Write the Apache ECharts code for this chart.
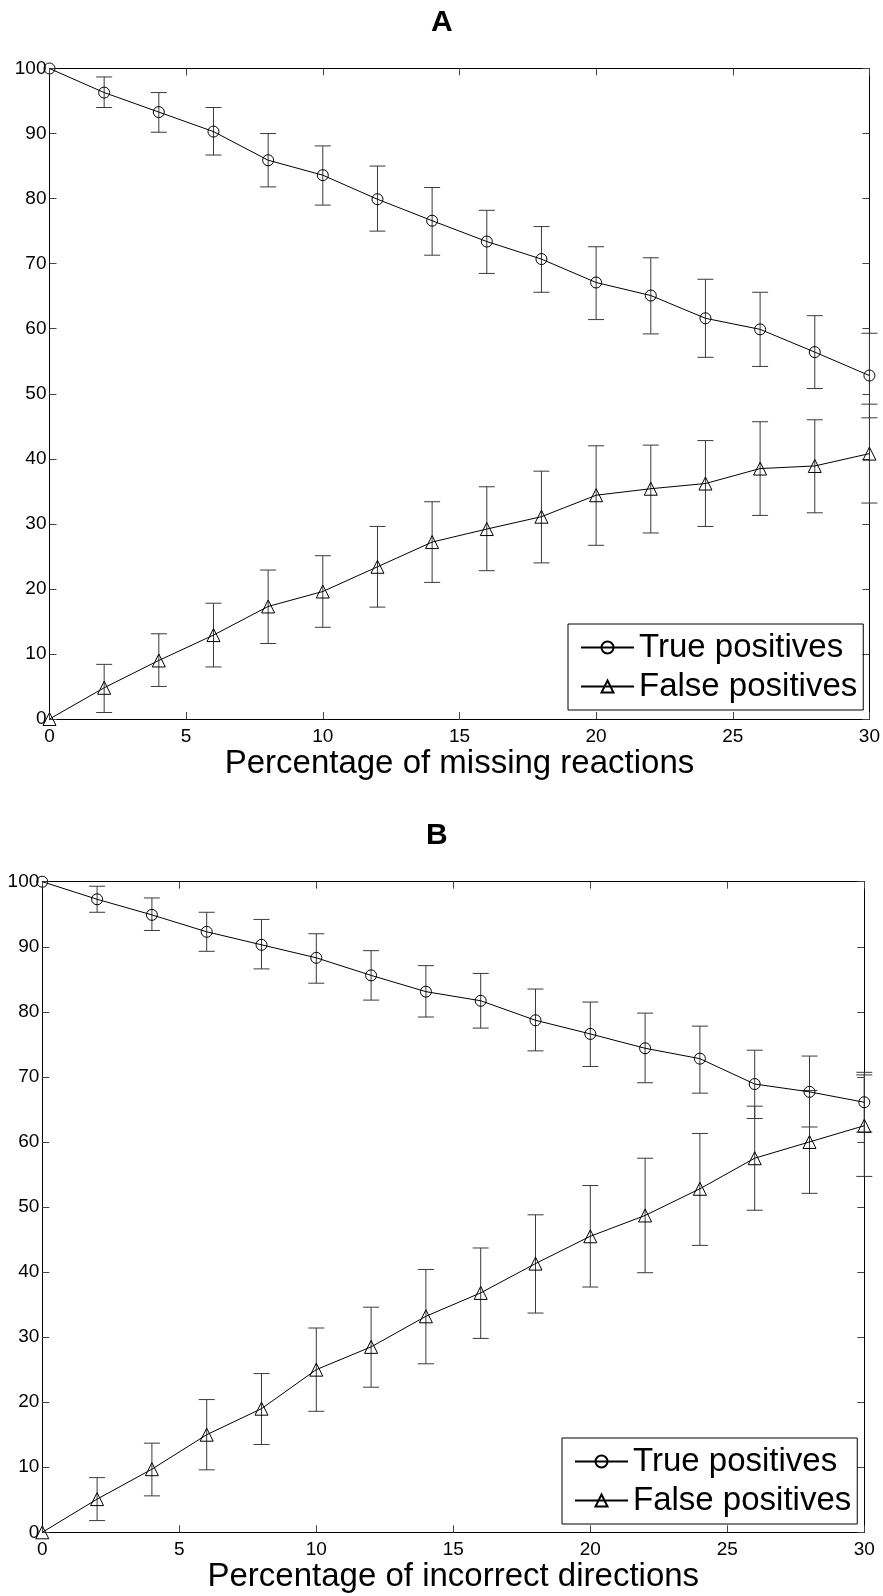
<!DOCTYPE html>
<html>
<head>
<meta charset="utf-8">
<script src="https://cdn.jsdelivr.net/npm/echarts@6/dist/echarts.min.js"></script>
<style>
  html, body { margin: 0; padding: 0; background: #fff; }
  #container { width: 883px; height: 1596px; }
</style>
</head>
<body>
<div id="container"></div>
<script>
// x positions (percentage)
var xVals = [0, 2, 4, 6, 8, 10, 12, 14, 16, 18, 20, 22, 24, 26, 28, 30];

// panel A: missing reactions
var aTpMean = [100, 96.3, 93.3, 90.3, 85.9, 83.6, 79.9, 76.6, 73.4, 70.7, 67.1, 65.1, 61.6, 59.9, 56.4, 52.8];
var aTpLow  = [100, 94.0, 90.2, 86.7, 81.8, 79.0, 75.0, 71.3, 68.5, 65.6, 61.4, 59.2, 55.6, 54.2, 50.8, 46.3];
var aTpHigh = [100, 98.7, 96.3, 94.0, 90.0, 88.1, 85.0, 81.7, 78.2, 75.7, 72.6, 70.9, 67.6, 65.6, 62.0, 59.3];
var aFpMean = [0, 4.8, 9.0, 12.9, 17.3, 19.6, 23.4, 27.2, 29.2, 31.1, 34.4, 35.4, 36.2, 38.5, 38.9, 40.8];
var aFpLow  = [0, 1.0, 5.0, 8.0, 11.6, 14.1, 17.2, 21.0, 22.8, 24.0, 26.7, 28.6, 29.6, 31.3, 31.7, 33.2];
var aFpHigh = [0, 8.4, 13.1, 17.8, 22.9, 25.1, 29.6, 33.4, 35.7, 38.1, 42.0, 42.1, 42.8, 45.7, 46.0, 48.4];

// panel B: incorrect directions
var bTpMean = [100, 97.3, 94.9, 92.3, 90.3, 88.3, 85.6, 83.1, 81.7, 78.7, 76.6, 74.4, 72.8, 68.9, 67.7, 66.1];
var bTpLow  = [100, 95.3, 92.5, 89.3, 86.6, 84.4, 81.8, 79.2, 77.5, 74.0, 71.6, 69.1, 67.5, 63.6, 62.3, 61.5];
var bTpHigh = [100, 99.3, 97.5, 95.3, 94.2, 92.0, 89.4, 87.1, 85.9, 83.5, 81.5, 79.8, 77.8, 74.1, 73.2, 70.7];
var bFpMean = [0, 5.1, 9.7, 15.0, 19.0, 25.0, 28.5, 33.2, 36.8, 41.3, 45.5, 48.7, 52.8, 57.5, 60.0, 62.5];
var bFpLow  = [0, 1.8, 5.6, 9.6, 13.5, 18.6, 22.3, 25.9, 29.8, 33.7, 37.7, 39.9, 44.1, 49.5, 52.1, 54.7];
var bFpHigh = [0, 8.4, 13.7, 20.4, 24.4, 31.4, 34.6, 40.4, 43.7, 48.8, 53.3, 57.5, 61.3, 65.5, 67.9, 70.3];

var xTitles = ['Percentage of missing reactions', 'Percentage of incorrect directions'];
var panelNames = ['A', 'B'];
var seriesNames = ['True positives', 'False positives'];

var FONT = '"Liberation Sans", Arial, Helvetica, sans-serif';

var myChart = echarts.init(document.getElementById('container'));

function pairs(ys) {
    return xVals.map(function (x, i) { return [x, ys[i]]; });
}

function errData(low, high) {
    var out = [];
    for (var i = 0; i < xVals.length; i++) {
        if (xVals[i] === 0) continue;   // no bar at origin
        out.push([xVals[i], low[i], high[i]]);
    }
    return out;
}

function renderErr(params, api) {
    var x = api.value(0);
    var lo = api.coord([x, api.value(1)]);
    var hi = api.coord([x, api.value(2)]);
    var hw = 8;
    var st = { stroke: '#3a3a3a', lineWidth: 1 };
    return {
        type: 'group',
        children: [
            { type: 'line', shape: { x1: lo[0], y1: lo[1], x2: hi[0], y2: hi[1] }, style: st },
            { type: 'line', shape: { x1: lo[0] - hw, y1: lo[1], x2: lo[0] + hw, y2: lo[1] }, style: st },
            { type: 'line', shape: { x1: hi[0] - hw, y1: hi[1], x2: hi[0] + hw, y2: hi[1] }, style: st }
        ]
    };
}

function xAx(g, pos, show, name) {
    return {
        type: 'value', gridIndex: g, position: pos, min: 0, max: 30, interval: 5,
        axisLine: { onZero: false, lineStyle: { color: '#000', width: 1 } },
        axisTick: { inside: true, length: 7, lineStyle: { color: '#444' } },
        axisLabel: { show: show, margin: 8, fontSize: 19, color: '#000', fontFamily: FONT },
        splitLine: { show: false },
        name: name || '', nameLocation: 'middle', nameGap: 28,
        nameTextStyle: { fontSize: 33, color: '#000', fontFamily: FONT }
    };
}

function yAx(g, pos, show) {
    return {
        type: 'value', gridIndex: g, position: pos, min: 0, max: 100, interval: 10,
        axisLine: { onZero: false, lineStyle: { color: '#000', width: 1 } },
        axisTick: { inside: true, length: 7, lineStyle: { color: '#444' } },
        axisLabel: { show: show, margin: 3, fontSize: 19, color: '#000', fontFamily: FONT },
        splitLine: { show: false }
    };
}

function lineSeries(name, sym, size, xi, data) {
    return {
        name: name, type: 'line', xAxisIndex: xi, yAxisIndex: xi,
        data: pairs(data), symbol: sym, symbolSize: size, showSymbol: true,
        clip: false, z: 3,
        lineStyle: { color: '#000', width: 1 },
        itemStyle: { color: 'rgba(0,0,0,0)', borderColor: '#000', borderWidth: 1 }
    };
}

function errSeries(xi, low, high) {
    return {
        type: 'custom', xAxisIndex: xi, yAxisIndex: xi,
        data: errData(low, high), renderItem: renderErr,
        encode: { x: 0, y: [1, 2] }, clip: false, silent: true, z: 2
    };
}

var legendBase = {
    orient: 'vertical', padding: [7, 6, 7, 12], borderColor: '#000', borderWidth: 1,
    itemWidth: 53, itemHeight: 15, itemGap: 6, selectedMode: false,
    textStyle: { fontSize: 33, color: '#000', fontFamily: FONT },
    data: seriesNames
};

option = {
    animation: false,
    backgroundColor: '#fff',
    title: [
        { text: panelNames[0], left: 431, top: 8, padding: 0,
          textStyle: { fontSize: 30, fontWeight: 'bold', color: '#000', fontFamily: FONT } },
        { text: panelNames[1], left: 426, top: 821, padding: 0,
          textStyle: { fontSize: 30, fontWeight: 'bold', color: '#000', fontFamily: FONT } }
    ],
    legend: [
        Object.assign({ left: 568, top: 624 }, legendBase),
        Object.assign({ left: 562, top: 1438 }, legendBase)
    ],
    grid: [
        { left: 49.5, top: 68.5, width: 822, height: 650.5 },
        { left: 42.3, top: 881.7, width: 822, height: 650.6 }
    ],
    xAxis: [
        xAx(0, 'bottom', true, xTitles[0]),
        xAx(1, 'bottom', true, xTitles[1]),
        xAx(0, 'top', false),
        xAx(1, 'top', false)
    ],
    yAxis: [
        yAx(0, 'left', true),
        yAx(1, 'left', true),
        yAx(0, 'right', false),
        yAx(1, 'right', false)
    ],
    series: [
        errSeries(0, aTpLow, aTpHigh),
        errSeries(0, aFpLow, aFpHigh),
        errSeries(1, bTpLow, bTpHigh),
        errSeries(1, bFpLow, bFpHigh),
        lineSeries(seriesNames[0], 'circle', 11, 0, aTpMean),
        lineSeries(seriesNames[1], 'triangle', 13, 0, aFpMean),
        lineSeries(seriesNames[0], 'circle', 11, 1, bTpMean),
        lineSeries(seriesNames[1], 'triangle', 13, 1, bFpMean)
    ]
};

if (option && typeof option === 'object') {
    myChart.setOption(option, true);
}
</script>
</body>
</html>
